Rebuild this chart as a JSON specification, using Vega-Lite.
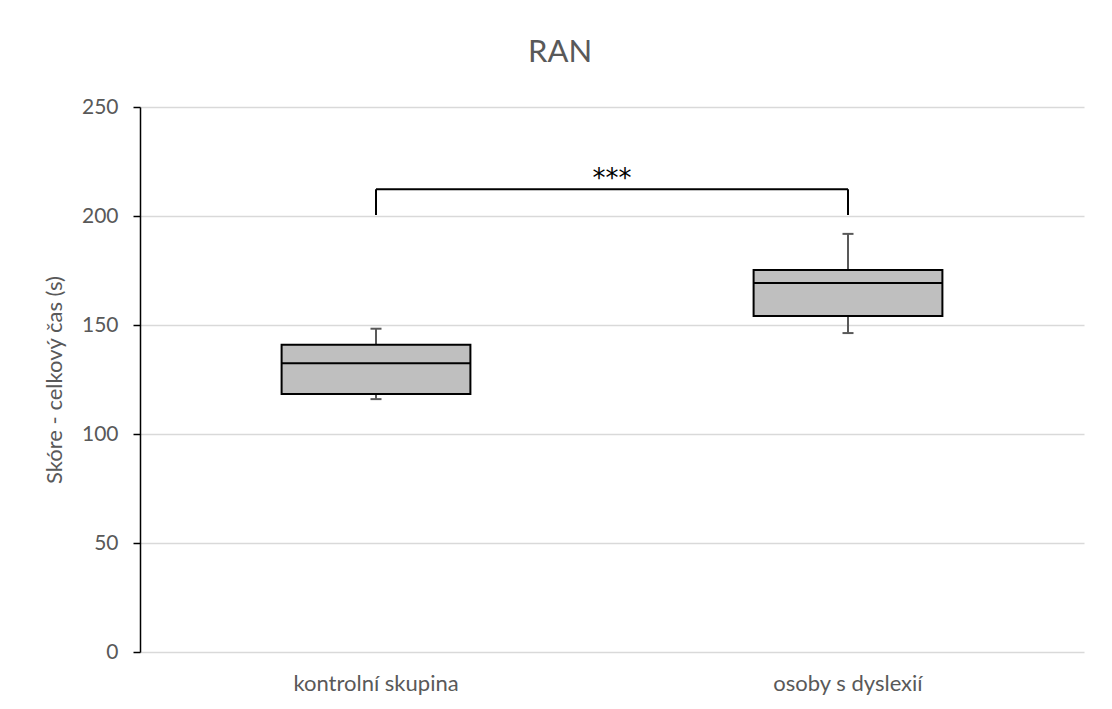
{
  "$schema": "https://vega.github.io/schema/vega-lite/v6.json",
  "width": 944,
  "height": 545,
  "autosize": {"type": "none"},
  "padding": {"left": 140, "top": 107, "right": 28, "bottom": 57},
  "background": "white",
  "config": {
    "font": "Lato",
    "view": {"stroke": null},
    "axis": {"labelFont": "Lato", "titleFont": "Lato"}
  },
  "title": {
    "text": "RAN",
    "fontSize": 31,
    "fontWeight": "normal",
    "color": "#595959",
    "anchor": "middle",
    "frame": "group",
    "dx": -52,
    "baseline": "alphabetic",
    "offset": 3
  },
  "datasets": {
    "boxes": [
      {"group": "kontrolní skupina", "min": 116.0, "q1": 118.3, "median": 132.4, "q3": 140.9, "max": 148.3},
      {"group": "osoby s dyslexií", "min": 146.3, "q1": 154.1, "median": 169.3, "q3": 175.2, "max": 191.8}
    ],
    "bracketEnds": [
      {"group": "kontrolní skupina", "low": 200.5, "high": 212.3},
      {"group": "osoby s dyslexií", "low": 200.5, "high": 212.3}
    ],
    "bracketTop": [
      {"from": "kontrolní skupina", "to": "osoby s dyslexií", "y": 212.3, "labelY": 212.3, "label": "***"}
    ]
  },
  "encoding": {
    "x": {
      "field": "group",
      "type": "nominal",
      "sort": ["kontrolní skupina", "osoby s dyslexií"],
      "scale": {"domain": ["kontrolní skupina", "osoby s dyslexií"], "paddingInner": 0, "paddingOuter": 0},
      "axis": {
        "title": null,
        "domain": false,
        "ticks": false,
        "grid": false,
        "labelAngle": 0,
        "labelFontSize": 22,
        "labelColor": "#595959",
        "labelBaseline": "alphabetic",
        "labelPadding": 38
      }
    }
  },
  "layer": [
    {
      "data": {"name": "boxes"},
      "mark": {"type": "rule", "color": "#595959", "strokeWidth": 2},
      "encoding": {
        "y": {
          "field": "min",
          "type": "quantitative",
          "scale": {"domain": [0, 250], "nice": false},
          "axis": {
            "title": "Skóre - celkový čas (s)",
            "titleFontSize": 22,
            "titleFontWeight": "normal",
            "titleColor": "#595959",
            "titlePadding": 15,
            "values": [0, 50, 100, 150, 200, 250],
            "labelFontSize": 21,
            "labelColor": "#595959",
            "labelPadding": 15,
            "domainColor": "black",
            "domainWidth": 1.5,
            "tickColor": "black",
            "tickSize": 7,
            "tickWidth": 1.5,
            "gridColor": "#d9d9d9",
            "gridWidth": 1.5
          }
        },
        "y2": {"field": "max"}
      }
    },
    {
      "data": {"name": "boxes"},
      "mark": {"type": "tick", "orient": "horizontal", "color": "#595959", "size": 11, "thickness": 2, "opacity": 1},
      "encoding": {"y": {"field": "min", "type": "quantitative"}}
    },
    {
      "data": {"name": "boxes"},
      "mark": {"type": "tick", "orient": "horizontal", "color": "#595959", "size": 11, "thickness": 2, "opacity": 1},
      "encoding": {"y": {"field": "max", "type": "quantitative"}}
    },
    {
      "data": {"name": "boxes"},
      "mark": {"type": "bar", "fill": "#bfbfbf", "stroke": "black", "strokeWidth": 2, "width": {"band": 0.4}},
      "encoding": {
        "y": {"field": "q1", "type": "quantitative"},
        "y2": {"field": "q3"}
      }
    },
    {
      "data": {"name": "boxes"},
      "mark": {"type": "tick", "orient": "horizontal", "color": "black", "size": 189, "thickness": 2, "opacity": 1},
      "encoding": {"y": {"field": "median", "type": "quantitative"}}
    },
    {
      "data": {"name": "bracketEnds"},
      "mark": {"type": "rule", "color": "black", "strokeWidth": 2},
      "encoding": {
        "y": {"field": "low", "type": "quantitative"},
        "y2": {"field": "high"}
      }
    },
    {
      "data": {"name": "bracketTop"},
      "mark": {"type": "rule", "color": "black", "strokeWidth": 2},
      "encoding": {
        "x": {"field": "from", "type": "nominal"},
        "x2": {"field": "to"},
        "y": {"field": "y", "type": "quantitative"}
      }
    },
    {
      "data": {"name": "bracketTop"},
      "mark": {"type": "text", "color": "black", "font": "DejaVu Sans", "fontSize": 26, "baseline": "alphabetic", "align": "center", "dy": -2},
      "encoding": {
        "x": {"field": "from", "type": "nominal", "bandPosition": 1},
        "y": {"field": "labelY", "type": "quantitative"},
        "text": {"field": "label"}
      }
    }
  ]
}
